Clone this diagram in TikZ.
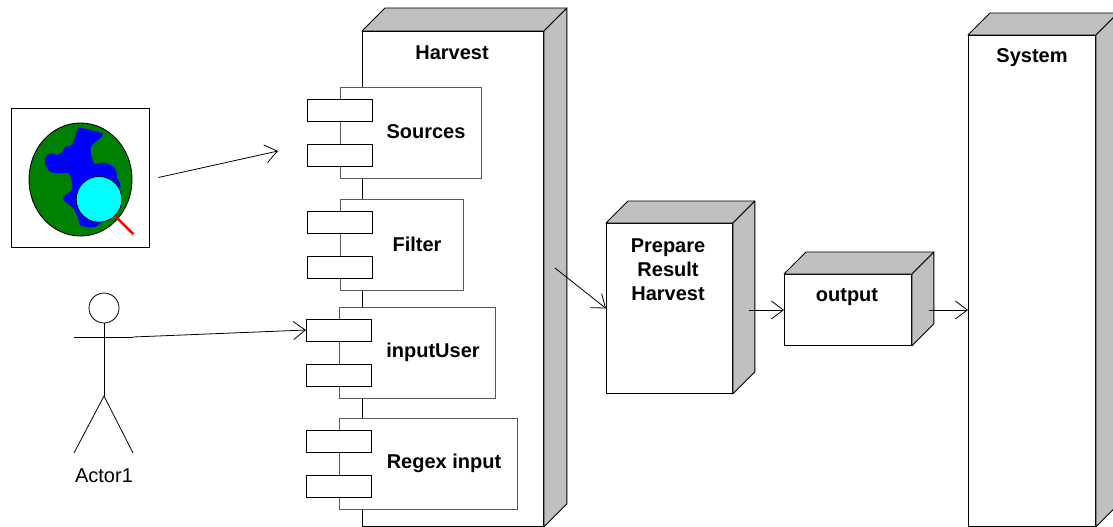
\documentclass[tikz,border=0pt]{standalone}
\usepackage{fontspec}
\setmainfont{Liberation Sans}
\usetikzlibrary{arrows.meta}

\definecolor{shade}{RGB}{192,192,192}
\definecolor{earth}{RGB}{0,128,0}
\definecolor{land}{RGB}{0,0,255}
\definecolor{lens}{RGB}{0,255,255}
\definecolor{handle}{RGB}{255,0,0}

\tikzset{
    front/.style    = {draw, fill=white, line width=0.9pt, inner sep=0pt, anchor=north west},
    sideface/.style = {draw, fill=shade, line width=0.9pt, line join=round},
    comp/.style     = {draw=black!65, fill=white, line width=0.8pt, inner sep=0pt, anchor=north west},
    port/.style     = {draw, fill=white, line width=0.9pt, inner sep=0pt, minimum width=65, minimum height=22},
    lbl/.style      = {font=\bfseries\fontsize{20}{24}\selectfont, align=center},
    flow/.style     = {line width=0.8pt, -{Straight Barb[length=12pt,width=18pt]}}
}

% grey top and side faces of a box node, #2 is the depth
\newcommand{\boxfaces}[2]{%
    \filldraw[sideface] (#1.north west) -- ++(#2,-#2) -- ([shift={(#2,-#2)}]#1.north east) -- (#1.north east) -- cycle;
    \filldraw[sideface] (#1.north east) -- ([shift={(#2,-#2)}]#1.north east) -- ([shift={(#2,-#2)}]#1.south east) -- (#1.south east) -- cycle;
}

\begin{document}
\begin{tikzpicture}[x=1pt, y=-1pt]
    \useasboundingbox (0,0) rectangle (1113,527);

    % search icon
    \node[draw, line width=0.9pt, minimum width=138, minimum height=139, inner sep=0pt] (globe) at (80,177.5) {};
    \filldraw[fill=earth, line width=0.9pt] (80.5,179.5) ellipse (51.5 and 56.5);
    \fill[land] plot[smooth cycle, tension=0.45] coordinates {
        (79.3,127.3) (101.7,133.3) (100,138.3) (90.7,147.3) (94,163.3) (105,162.7)
        (115,168.3) (117.3,178.3) (120,190) (100,223.3) (90,227.3) (80,225)
        (78.3,218.3) (73.3,208.3) (62.7,198.3) (71.7,190) (71.7,180) (68.3,173.3)
        (58.3,173.3) (50,171.7) (45,163.3) (46,156.7) (51.7,153.3) (56.7,155)
        (62.7,151.7) (65,146.7) (71.7,145) (78.3,128.3)};
    \filldraw[fill=lens, line width=0.7pt] (99,199.3) circle (22.8);
    \draw[handle, line width=2.5pt] (115.7,216.7) -- (133.3,234);

    % actor
    \node[draw, circle, minimum size=30, inner sep=0pt, line width=0.8pt] (head) at (104,308) {};
    \coordinate (hip) at (104,396);
    \coordinate (hand) at (133,337);
    \draw[line width=0.8pt] (head.south) -- (hip);
    \draw[line width=0.8pt] (74,337) -- (hand);
    \draw[line width=0.8pt] (74,453) -- (hip) -- (133,453);
    \node[font=\fontsize{20}{24}\selectfont] (actor) at (104,476) {Actor1};

    % Harvest node
    \node[front, minimum width=181, minimum height=495] (harvest) at (362,31) {};
    \boxfaces{harvest}{23}
    \node[lbl] (harvestname) at (452,53) {Harvest};

    \node[comp, minimum width=141, minimum height=91] (sources) at (340,87) {};
    \node[port] (sources1) at ([yshift=-23pt]sources.north west) {};
    \node[port] (sources2) at ([yshift=-68pt]sources.north west) {};
    \node[lbl] (sourcesname) at (426,132) {Sources};

    \node[comp, minimum width=123, minimum height=91] (filter) at (340,199) {};
    \node[port] (filter1) at ([yshift=-23pt]filter.north west) {};
    \node[port] (filter2) at ([yshift=-68pt]filter.north west) {};
    \node[lbl] (filtername) at (417,244) {Filter};

    \node[comp, minimum width=156, minimum height=91] (inputuser) at (339,307) {};
    \node[port] (inputuser1) at ([yshift=-23pt]inputuser.north west) {};
    \node[port] (inputuser2) at ([yshift=-68pt]inputuser.north west) {};
    \node[lbl] (inputusername) at (433,352) {inputUser};

    \node[comp, minimum width=178, minimum height=91] (regex) at (339,418) {};
    \node[port] (regex1) at ([yshift=-23pt]regex.north west) {};
    \node[port] (regex2) at ([yshift=-68pt]regex.north west) {};
    \node[lbl] (regexname) at (444,463) {Regex input};

    % other nodes
    \node[front, minimum width=126, minimum height=170] (prepare) at (606,223) {};
    \boxfaces{prepare}{22}
    \node[lbl] (preparename) at (668,270) {Prepare\\Result\\Harvest};

    \node[front, minimum width=127, minimum height=71] (output) at (784,274) {};
    \boxfaces{output}{22}
    \node[lbl] (outputname) at (847,297) {output};

    \node[front, minimum width=127, minimum height=491] (system) at (968,35) {};
    \boxfaces{system}{22}
    \node[lbl] (systemname) at (1032,58) {System};

    % connectors
    \coordinate (aim) at (278,151);
    \draw[flow] ([xshift=9pt]globe.east) -- (aim);
    \draw[flow] (hand) -- (inputuser1.west);
    \draw[flow] ([shift={(11,-11)}]harvest.east) -- (prepare.west);
    \draw[flow] ([xshift=16pt]prepare.east |- output.west) -- (output.west);
    \draw[flow] ([xshift=17pt]output.east) -- (output.east -| system.west);
\end{tikzpicture}
\end{document}
